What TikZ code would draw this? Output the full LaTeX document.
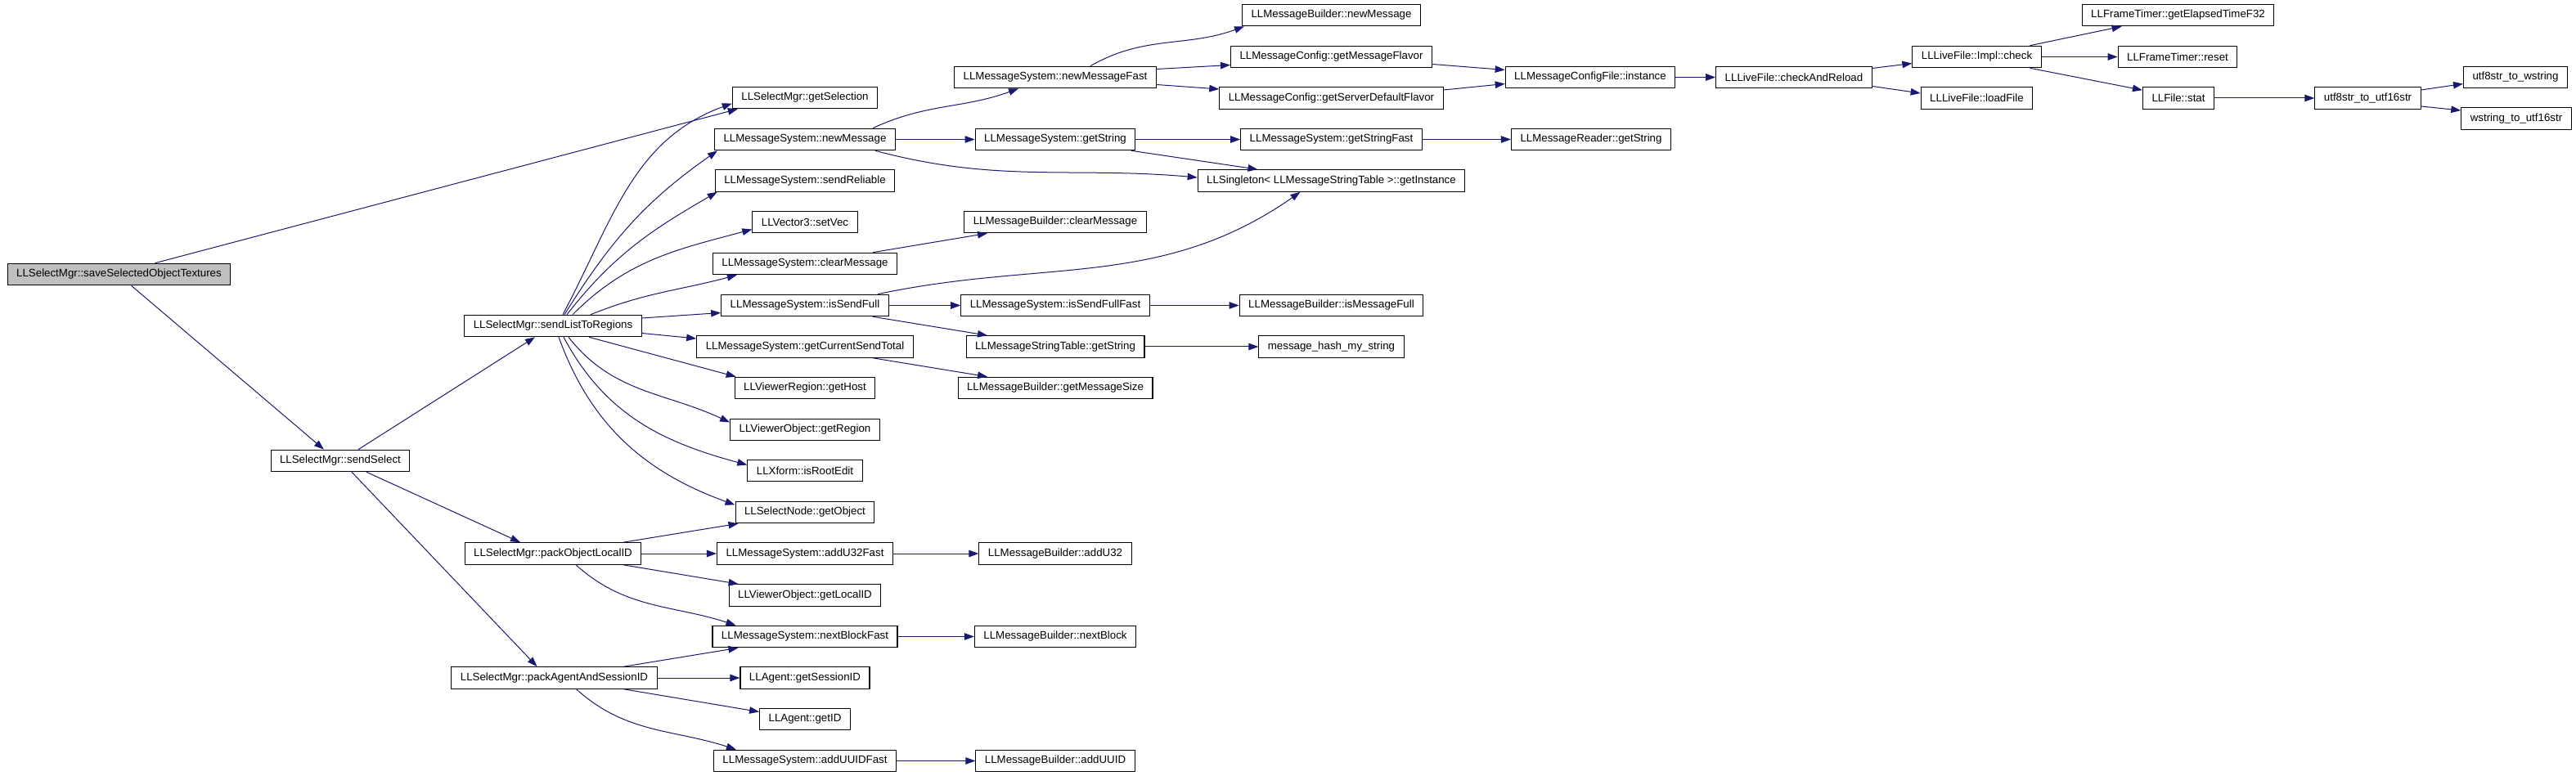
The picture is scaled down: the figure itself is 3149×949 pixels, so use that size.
\documentclass[tikz,border=0pt]{standalone}
\usepackage{fontspec}
\setmainfont{Liberation Sans}
\usetikzlibrary{arrows.meta}
\definecolor{navyedge}{HTML}{191970}

\begin{document}
\begin{tikzpicture}[x=1pt,y=1pt,
	fn/.style={draw=black,fill=white,line width=1.1pt,minimum height=26.5pt,inner xsep=11pt,inner ysep=0pt,font=\fontsize{13.3}{15}\selectfont},
	root/.style={fn,fill=black!25},
	call/.style={draw=navyedge,line width=1pt,-{Triangle[length=12pt,width=8.5pt]}}]
	\useasboundingbox (0,0) rectangle (3149,-949);
	\node[root] (save) at (145.5,-335.5) {LLSelectMgr::saveSelectedObjectTextures};
	\node[fn] (sendsel) at (416,-563.5) {LLSelectMgr::sendSelect};
	\node[fn] (slr) at (676,-398.5) {LLSelectMgr::sendListToRegions};
	\node[fn] (pol) at (676,-677) {LLSelectMgr::packObjectLocalID};
	\node[fn] (pas) at (677.5,-829) {LLSelectMgr::packAgentAndSessionID};
	\node[fn] (getsel) at (984,-119.5) {LLSelectMgr::getSelection};
	\node[fn] (msnew) at (984,-170.5) {LLMessageSystem::newMessage};
	\node[fn] (sendrel) at (984,-221) {LLMessageSystem::sendReliable};
	\node[fn] (setvec) at (984,-271.5) {LLVector3::setVec};
	\node[fn] (msclear) at (984,-322.5) {LLMessageSystem::clearMessage};
	\node[fn] (issf) at (984,-373.5) {LLMessageSystem::isSendFull};
	\node[fn] (cursend) at (984,-424) {LLMessageSystem::getCurrentSendTotal};
	\node[fn] (gethost) at (984,-474.5) {LLViewerRegion::getHost};
	\node[fn] (getreg) at (984,-525.5) {LLViewerObject::getRegion};
	\node[fn] (rootedit) at (984,-575.5) {LLXform::isRootEdit};
	\node[fn] (getobj) at (984,-626.5) {LLSelectNode::getObject};
	\node[fn] (addu32f) at (984,-677) {LLMessageSystem::addU32Fast};
	\node[fn] (localid) at (984,-728) {LLViewerObject::getLocalID};
	\node[fn] (nbfast) at (984,-778.5) {LLMessageSystem::nextBlockFast};
	\node[fn] (sessid) at (984,-829) {LLAgent::getSessionID};
	\node[fn] (getid) at (984,-879.5) {LLAgent::getID};
	\node[fn] (adduuidf) at (984,-930.5) {LLMessageSystem::addUUIDFast};
	\node[fn] (nmfast) at (1290,-94.5) {LLMessageSystem::newMessageFast};
	\node[fn] (msgstr) at (1290,-170.5) {LLMessageSystem::getString};
	\node[fn] (mbclear) at (1290,-271.5) {LLMessageBuilder::clearMessage};
	\node[fn] (issff) at (1290,-373.5) {LLMessageSystem::isSendFullFast};
	\node[fn] (mstgstr) at (1290,-424) {LLMessageStringTable::getString};
	\node[fn] (msgsize) at (1290,-474.5) {LLMessageBuilder::getMessageSize};
	\node[fn] (addu32) at (1290,-677) {LLMessageBuilder::addU32};
	\node[fn] (nextblk) at (1290,-778.5) {LLMessageBuilder::nextBlock};
	\node[fn] (adduuid) at (1290,-930.5) {LLMessageBuilder::addUUID};
	\node[fn] (mbnew) at (1627.5,-18.5) {LLMessageBuilder::newMessage};
	\node[fn] (flavor) at (1627.5,-69.5) {LLMessageConfig::getMessageFlavor};
	\node[fn] (srvflavor) at (1627.5,-120) {LLMessageConfig::getServerDefaultFlavor};
	\node[fn] (strfast) at (1627.5,-170.5) {LLMessageSystem::getStringFast};
	\node[fn] (inst) at (1627.5,-221) {LLSingleton< LLMessageStringTable >::getInstance};
	\node[fn] (msgfull) at (1627.5,-373.5) {LLMessageBuilder::isMessageFull};
	\node[fn] (hash) at (1627.5,-424) {message\_hash\_my\_string};
	\node[fn] (cfginst) at (1944,-94.5) {LLMessageConfigFile::instance};
	\node[fn] (rdstr) at (1945,-170.5) {LLMessageReader::getString};
	\node[fn] (reload) at (2193,-94.5) {LLLiveFile::checkAndReload};
	\node[fn] (check) at (2416.5,-69.5) {LLLiveFile::Impl::check};
	\node[fn] (loadfile) at (2416.5,-120) {LLLiveFile::loadFile};
	\node[fn] (elapsed) at (2662.5,-18.5) {LLFrameTimer::getElapsedTimeF32};
	\node[fn] (reset) at (2662,-69.5) {LLFrameTimer::reset};
	\node[fn] (stat) at (2663,-120) {LLFile::stat};
	\node[fn] (utf16) at (2894.5,-120) {utf8str\_to\_utf16str};
	\node[fn] (wstr) at (3075,-94.5) {utf8str\_to\_wstring};
	\node[fn] (w16) at (3076,-145) {wstring\_to\_utf16str};

	\foreach \a/\b in {msnew/msgstr,msgstr/strfast,strfast/rdstr,cfginst/reload,check/reset,stat/utf16,issf/issff,issff/msgfull,mstgstr/hash,pol/addu32f,addu32f/addu32,nbfast/nextblk,pas/sessid,adduuidf/adduuid}
		\draw[call] (\a) -- (\b);

	\draw[call] ([xshift=44]save.north) -- ([xshift=7]getsel.south west);
	\draw[call] ([xshift=15]save.south) -- ([xshift=-20]sendsel.north);
	\draw[call] ([xshift=22]sendsel.north) -- ([xshift=-22]slr.south);
	\draw[call] ([xshift=32]sendsel.south) -- ([xshift=-40]pol.north);
	\draw[call] ([xshift=14]sendsel.south) -- ([xshift=-21]pas.north);

	\draw[call] ([xshift=12]slr.north) to[out=62,in=200] ([yshift=-7]getsel.west);
	\draw[call] ([xshift=14]slr.north) to[out=58,in=215] ([xshift=4]msnew.south west);
	\draw[call] ([xshift=17]slr.north) to[out=52,in=210] ([xshift=3]sendrel.south west);
	\draw[call] ([xshift=24]slr.north) to[out=45,in=195] ([yshift=-9]setvec.west);
	\draw[call] ([xshift=46]slr.north) to[out=22,in=195] ([xshift=30]msclear.south west);
	\draw[call] ([yshift=9.5]slr.east) -- ([yshift=-9]issf.west);
	\draw[call] ([yshift=-9]slr.east) -- ([yshift=10]cursend.west);
	\draw[call] ([xshift=44]slr.south) -- ([xshift=2]gethost.north west);
	\draw[call] ([xshift=19]slr.south) to[out=-52,in=155] ([yshift=9]getreg.west);
	\draw[call] ([xshift=13]slr.south) to[out=-62,in=165] ([yshift=7]rootedit.west);
	\draw[call] ([xshift=7]slr.south) to[out=-70,in=160] ([yshift=9]getobj.west);

	\draw[call] ([xshift=83]msnew.north) to[out=25,in=200] ([xshift=-45]nmfast.south);
	\draw[call] ([xshift=86]msnew.south) to[out=-15,in=175] ([yshift=4]inst.west);
	\draw[call] ([xshift=43]nmfast.north) to[out=30,in=200] ([xshift=3]mbnew.south west);
	\draw[call] ([yshift=10]nmfast.east) -- ([yshift=-10]flavor.west);
	\draw[call] ([yshift=-9]nmfast.east) -- ([yshift=11]srvflavor.west);
	\draw[call] ([yshift=-9]flavor.east) -- ([yshift=9]cfginst.west);
	\draw[call] ([yshift=10]srvflavor.east) -- ([yshift=-8]cfginst.west);
	\draw[call] ([yshift=11]reload.east) -- ([yshift=-8]check.west);
	\draw[call] ([yshift=-11]reload.east) -- ([yshift=6]loadfile.west);
	\draw[call] ([xshift=65]check.north) -- ([xshift=49]elapsed.south west);
	\draw[call] ([xshift=65]check.south) -- ([yshift=-4]stat.north west);
	\draw[call] ([yshift=10]utf16.east) -- ([yshift=-8]wstr.west);
	\draw[call] ([yshift=-10]utf16.east) -- ([yshift=10]w16.west);
	\draw[call] ([xshift=93]msgstr.south) -- ([xshift=-90]inst.north);

	\draw[call] ([xshift=83]msclear.north) -- ([xshift=-83]mbclear.south);
	\draw[call] ([xshift=89]issf.north) to[out=12,in=215] ([xshift=-38]inst.south);
	\draw[call] ([xshift=83]issf.south) -- ([xshift=-83]mstgstr.north);
	\draw[call] ([xshift=83]cursend.south) -- ([xshift=-83]msgsize.north);

	\draw[call] ([xshift=86]pol.north) -- ([xshift=4]getobj.south west);
	\draw[call] ([xshift=86]pol.south) -- ([xshift=12]localid.north west);
	\draw[call] ([xshift=28]pol.south) to[out=-42,in=162] ([xshift=29]nbfast.north west);
	\draw[call] ([xshift=85]pas.north) -- ([xshift=32]nbfast.south west);
	\draw[call] ([xshift=85]pas.south) -- ([yshift=9]getid.west);
	\draw[call] ([xshift=27]pas.south) to[out=-42,in=162] ([xshift=28]adduuidf.north west);
\end{tikzpicture}
\end{document}
